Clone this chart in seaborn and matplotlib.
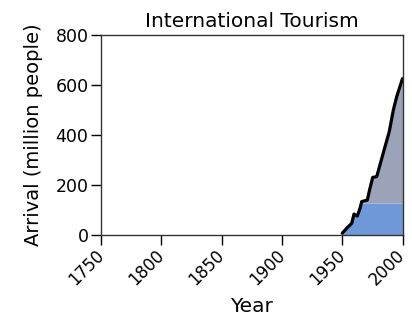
import numpy as np
import pandas as pd
import seaborn as sns
import matplotlib.pyplot as plt

# International tourist arrivals (million people)
years = [1950, 1953.7, 1957.9, 1959.8, 1962.5, 1964.8, 1966.2, 1970.8, 1973, 1975.3,
         1978.6, 1981.3, 1986.3, 1989, 1992.4, 1995.2, 2000]
arrivals = [5, 25, 45, 82, 74, 105, 132, 138, 185, 229, 232, 279, 366, 412, 499, 553, 625]
xticks = [1750, 1800, 1850, 1900, 1950, 2000]
yticks = [0, 200, 400, 600, 800]

df = pd.DataFrame({"Year": years, "Arrival": arrivals})

sns.set_style("white")
plt.rcParams['font.family'] = ['DejaVu Sans']
plt.rcParams['text.color'] = 'black'
plt.rcParams['axes.labelcolor'] = 'black'
plt.rcParams['xtick.color'] = 'black'
plt.rcParams['ytick.color'] = 'black'

fig = plt.figure(figsize=(4.12, 3.18), dpi=100)
ax = fig.add_axes([101 / 412, (318 - 234.5) / 318, 301.5 / 412, 199.5 / 318])

# shaded area under the curve: blue lower band, grey-blue upper part
y = np.array(arrivals, dtype=float)
ax.fill_between(df["Year"], 0, np.minimum(y, 126), color="#6e98d8", lw=0)
ax.fill_between(df["Year"], 126, y, where=y > 126, interpolate=True,
                color="#9aa3b8", lw=0)

sns.lineplot(data=df, x="Year", y="Arrival", color="black", lw=2.3, ax=ax)

ax.set_xlim(1750, 2000)
ax.set_ylim(0, 800)
ax.set_xticks(xticks)
ax.set_yticks(yticks)
ax.set_xticklabels([str(t) for t in xticks], rotation=45, ha="right", va="center",
                   rotation_mode="anchor", fontsize=12)
ax.set_yticklabels([str(t) for t in yticks], fontsize=12.5)
ax.tick_params(axis="both", direction="out", length=7, width=1,
               bottom=True, left=True, pad=2)
ax.tick_params(axis="x", pad=6)

for s in ax.spines.values():
    s.set_color("#333333")
    s.set_linewidth(1)

ax.set_title("International Tourism", fontsize=14.5, pad=6)
ax.set_xlabel("Year", fontsize=14.5, labelpad=6)
ax.set_ylabel("Arrival (million people)", fontsize=14, labelpad=9)

fig.savefig("out.png", dpi=100, facecolor="white")
